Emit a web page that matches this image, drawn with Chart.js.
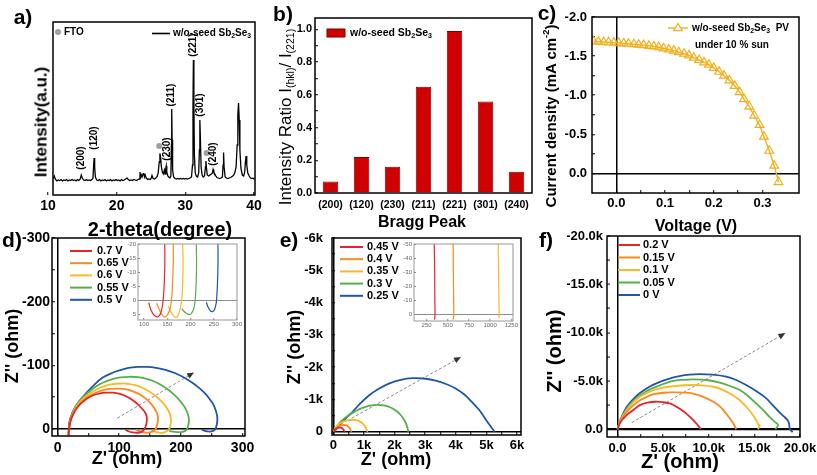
<!DOCTYPE html>
<html><head><meta charset="utf-8"><title>w/o-seed Sb2Se3</title>
<script src="https://cdn.jsdelivr.net/npm/chart.js@4.4.1/dist/chart.umd.min.js"></script>
<style>
html,body{margin:0;padding:0;background:#fff;overflow:hidden;}
body{position:relative;width:817px;height:475px;}
canvas{position:absolute;}
.t{position:absolute;font-family:"Liberation Sans",Arial,Helvetica,sans-serif;font-weight:bold;color:#000;white-space:nowrap;line-height:1;transform:translate(-50%,-50%);}
.v{transform:translate(-50%,-50%) rotate(-90deg);}
.t sub{font-size:62%;vertical-align:-0.3em;line-height:0;}
.t sup{font-size:62%;vertical-align:0.65em;line-height:0;}
</style></head><body>
<canvas id="ca"></canvas><canvas id="cb"></canvas><canvas id="cc"></canvas>
<canvas id="cd"></canvas><canvas id="ce"></canvas><canvas id="cf"></canvas>
<canvas id="cdi"></canvas><canvas id="cei"></canvas>

<div class="t" style="left:23px;top:16px;font-size:21px">a)</div>
<div class="t" style="left:283px;top:13px;font-size:21px">b)</div>
<div class="t" style="left:547px;top:12px;font-size:21px">c)</div>
<div class="t" style="left:12px;top:239px;font-size:21px">d)</div>
<div class="t" style="left:289px;top:239px;font-size:21px">e)</div>
<div class="t" style="left:546px;top:239px;font-size:21px">f)</div>

<div class="t v" style="left:41px;top:122px;font-size:17px">Intensity(a.u.)</div>
<div class="t" style="left:160px;top:229px;font-size:20px">2-theta(degree)</div>
<div class="t v" style="left:285px;top:117px;font-size:17px;font-weight:normal">Intensity Ratio I<sub>(hkl)</sub>/ I<sub>(221)</sub></div>
<div class="t" style="left:422px;top:222px;font-size:16px">Bragg Peak</div>
<div class="t v" style="left:550px;top:116px;font-size:15px">Current density (mA cm<sup>-2</sup>)</div>
<div class="t" style="left:696px;top:226px;font-size:16px">Voltage (V)</div>
<div class="t v" style="left:12px;top:346px;font-size:18px">Z'' (ohm)</div>
<div class="t" style="left:127px;top:458px;font-size:18px">Z' (ohm)</div>
<div class="t v" style="left:294px;top:347px;font-size:18px">Z'' (ohm)</div>
<div class="t" style="left:396px;top:459px;font-size:18px">Z' (ohm)</div>
<div class="t v" style="left:554px;top:351px;font-size:20px">Z'' (ohm)</div>
<div class="t" style="left:680px;top:461px;font-size:20px">Z' (ohm)</div>

<script>
// ================= DATA =================
// (a) XRD pattern
const xrdTheta = [10.7,10.9,11.1,11.3,11.5,11.7,11.9,12.1,12.3,12.5,12.7,12.9,13.1,13.3,13.5,13.7,13.9,14.1,14.3,14.5,14.7,14.85,15.0,15.2,15.4,15.6,15.8,16.0,16.2,16.4,16.55,16.65,16.72,16.8,16.9,17.1,17.3,17.5,17.7,17.9,18.1,18.3,18.5,18.7,18.9,19.1,19.3,19.5,19.7,19.9,20.1,20.3,20.5,20.7,20.9,21.1,21.3,21.5,21.7,21.9,22.1,22.3,22.5,22.7,22.9,23.1,23.3,23.4,23.5,23.6,23.7,23.85,23.95,24.05,24.15,24.3,24.5,24.7,24.9,25.05,25.15,25.3,25.5,25.7,25.9,26.05,26.2,26.3,26.4,26.5,26.65,26.8,26.95,27.05,27.15,27.22,27.3,27.45,27.6,27.75,27.9,27.97,28.02,28.08,28.15,28.3,28.5,28.7,28.9,29.1,29.3,29.5,29.7,29.9,30.1,30.3,30.5,30.7,30.9,31.05,31.12,31.18,31.25,31.32,31.45,31.6,31.8,31.95,32.05,32.12,32.2,32.3,32.45,32.6,32.8,32.93,33.0,33.08,33.2,33.4,33.6,33.8,33.95,34.05,34.15,34.3,34.45,34.6,34.8,35.0,35.2,35.4,35.5,35.57,35.65,35.8,36.0,36.2,36.4,36.6,36.8,37.0,37.2,37.4,37.55,37.65,37.75,37.85,37.95,38.1,38.3,38.5,38.65,38.75,38.85,38.95,39.1,39.3,39.5,39.7,39.85,40.0,40.15];
const xrdIntensity = [16,19,15.5,14,15,14.5,15.5,14,15,14.5,15.5,14,15,14.5,15.5,14.5,15,14,15.5,14.5,16,20,17,15,14.5,15.5,14.5,15,14.5,15.5,17,30,37,28,18,15,14.5,15.5,14,15,14.5,15.5,14,15,14.5,15.5,14,15,14.5,15.5,14.5,15,14,15.5,14.5,15,16,17,15.5,14.5,15,14.5,15.5,15,14.5,15.5,16,23,18,20,18,21,22,18,20,17,15.5,16,15.5,17,19.5,16.5,16,17,18.5,22,33,41.5,38,29,23,21,25,21,26,29,23,19,18,17,19,50,86,55,25,18,16.5,16,16.5,16,16.5,16,16.5,16,16.5,16,16.5,17,18,30,90,135,95,40,22,19,18,22,45,75,55,28,20,18,19,28,34,27,20,19,20,21,22,25.5,23,21,19,17.5,17,16.5,17,18,30,42.5,28,18,17,16.5,17,17.5,18.5,19.5,22,28,50,80,92,75,45,27,20,19,23,33,39,30,22,19,17,16.5,17,16,16.5];
const ftoTheta = [26.2, 33.1];
const ftoMark = [49, 42];
const peakLabels = ['(200)','(120)','(230)','(211)','(221)','(301)','(240)'];
const peakLabelTheta = [14.85, 16.75, 27.3, 28.0, 31.2, 32.15, 34.1];
const peakLabelY = [37, 57, 46, 100, 150, 90, 41];
const xrdTicks = [10, 20, 30, 40];

// (b) intensity ratio
const braggPeaks = ['(200)','(120)','(230)','(211)','(221)','(301)','(240)'];
const intensityRatio = [0.07, 0.22, 0.16, 0.65, 0.99, 0.56, 0.13];
const ratioTicks = [0, 0.2, 0.4, 0.6, 0.8, 1.0];
const ratioMinor = [0.1, 0.3, 0.5, 0.7, 0.9];

// (c) J-V curve
const pvVoltage = [-0.047,-0.037,-0.026,-0.016,-0.005,0.005,0.015,0.025,0.036,0.046,0.056,0.067,0.077,0.087,0.097,0.108,0.118,0.128,0.139,0.149,0.159,0.170,0.180,0.190,0.200,0.211,0.221,0.232,0.243,0.253,0.262,0.273,0.283,0.294,0.303,0.314,0.324,0.333];
const pvCurrent = [-1.69,-1.685,-1.68,-1.677,-1.672,-1.667,-1.663,-1.658,-1.652,-1.646,-1.64,-1.632,-1.624,-1.613,-1.60,-1.585,-1.57,-1.55,-1.53,-1.51,-1.48,-1.45,-1.42,-1.39,-1.35,-1.30,-1.25,-1.19,-1.12,-1.04,-0.95,-0.855,-0.74,-0.62,-0.47,-0.29,-0.10,0.11];
const pvTicksV = [0, 0.1, 0.2, 0.3];
const pvMinorV = [0.05, 0.15, 0.25];
const pvTicksJ = [-2.0, -1.5, -1.0, -0.5, 0.0];
const pvMinorJ = [-1.75, -1.25, -0.75, -0.25];

// (d) Nyquist, 0.7 - 0.5 V
const dLabels = ['0.7 V','0.65 V','0.6 V','0.55 V','0.5 V'];
const dRe07 = [110,115,122,130,136,140,142.5,144,144.8,144.5,142,137,131,122,112,101,90,79,69,58,48,39,31,25,21,19,18,18];
const dIm07 = [0.8,3.5,5.3,5.9,4.5,1.5,-3,-8,-14,-20,-26,-32,-38,-45,-51,-55,-57,-57,-56,-53,-48,-41,-32.5,-22,-12,-3,6,10];
const dRe065 = [127,132,138,145,151,156,159,161,162.5,163,162,158,152,144,134,122,110,98,86,74,62,50,40,31,25,21,19,18,18];
const dIm065 = [1,3,5,6,5,3,0,-5,-11,-17,-23,-31,-39,-47,-54,-59,-62.5,-63.5,-63,-61,-57,-51,-43,-34,-24,-13,-3,6,10];
const dRe06 = [152,156,161,167,172,177,181,183,184,183.5,181,176,169,160,150,139,127,115,102,89,76,63,51,40,31,25,21,19,18,18];
const dIm06 = [2,3.5,5,6,5.8,3.5,0,-6,-12,-18,-26,-35,-43,-51,-58,-64,-68.5,-71,-71.5,-70.5,-67.5,-62,-55,-46,-36,-25,-14,-3,6,10];
const dRe055 = [181,185,190,196,201,207,210,212,213,212.5,210,205,198,189,179,168,156,143,130,116,102,88,74,61,49,38,29,23,20,18,18];
const dIm055 = [3,3.8,4.5,5,4.8,3,0,-6,-12,-19,-27,-36,-45,-54,-62,-69,-75,-79,-81.5,-82,-81,-78,-73,-66,-57,-47,-35,-22,-10,6,10];
const dRe05 = [234,238,243,247,251,254,256,258,259,259,257,253,246,238,229,218,205,190,175,160,145,130,115,100,86,72,59,47,37,29,23,19,18,18];
const dIm05 = [0.7,2.5,3.8,4,3.5,2,0,-6,-12,-19,-28,-38,-48,-57,-65,-73,-81,-88,-93,-96,-97.5,-97.5,-96,-92,-87,-80,-69,-57,-46,-35,-23,-10,6,10];
const dArrowRe = [97, 220];
const dArrowIm = [-17, -88];
const dTicksX = [0, 100, 200, 300];
const dMinorX = [50, 150, 250];
const dTicksY = [-300, -200, -100, 0];
const dMinorY = [-250, -150, -50];
const dInsetTicksX = [100, 150, 200, 250, 300];
const dInsetTicksY = [-20, -15, -10, -5, 0, 5];

// (e) Nyquist, 0.45 - 0.25 V
const eLabels = ['0.45 V','0.4 V','0.35 V','0.3 V','0.25 V'];
const eRe045 = [10,40,80,130,180,230,280,315,338,346,348,350,347,343];
const eIm045 = [0,-50,-90,-118,-130,-128,-112,-85,-55,-30,-10,0,3,4];
const eRe04 = [10,50,110,180,250,320,390,450,500,540,560,567,570,572,568,562];
const eIm04 = [0,-70,-130,-175,-200,-210,-205,-185,-150,-105,-60,-30,-10,0,3,4];
const eRe035 = [10,60,140,240,350,460,570,680,780,870,950,1020,1070,1095,1102,1105,1107,1104];
const eIm035 = [0,-110,-200,-270,-320,-350,-365,-365,-350,-315,-260,-190,-110,-50,-20,-5,0,3];
const eRe03 = [10,100,250,450,650,850,1050,1250,1450,1650,1850,2050,2200,2330,2410,2440,2450];
const eIm03 = [0,-150,-320,-480,-600,-700,-770,-815,-830,-815,-760,-650,-520,-340,-160,-40,0];
const eRe025 = [20,200,400,600,850,1180,1500,1830,2200,2580,2950,3340,3680,3980,4270,4520,4760,4950,5130,5270];
const eIm025 = [0,-200,-410,-590,-850,-1140,-1340,-1500,-1610,-1660,-1650,-1580,-1480,-1350,-1160,-930,-680,-420,-180,0];
const eArrowRe = [600, 4140];
const eArrowIm = [-420, -2300];
const eTicksX = [0, 1000, 2000, 3000, 4000, 5000, 6000];
const eMinorX = [500, 1500, 2500, 3500, 4500, 5500];
const eTicksY = [-6000, -5000, -4000, -3000, -2000, -1000, 0];
const eMinorY = [-5500, -4500, -3500, -2500, -1500, -500];
const eInsetTicksX = [250, 500, 750, 1000, 1250];
const eInsetTicksY = [-50, -40, -30, -20, -10, 0];

// (f) Nyquist, 0.2 - 0 V
const fLabels = ['0.2 V','0.15 V','0.1 V','0.05 V','0 V'];
const fRe02 = [0,300,1000,1800,2460,3300,4200,5000,5800,6460,7100,7730,8250,8650,8950,9120];
const fIm02 = [0,-700,-1460,-2050,-2500,-2750,-2850,-2800,-2650,-2330,-1950,-1460,-1000,-600,-250,0];
const fRe015 = [0,300,1000,1700,2460,3200,3900,5000,6100,7200,8300,9400,10500,11300,11900,12400,12800,13000];
const fIm015 = [0,-800,-1800,-2450,-3000,-3350,-3600,-3780,-3820,-3800,-3700,-3350,-2850,-2300,-1630,-1000,-420,0];
const fRe01 = [0,300,1000,1700,2460,3500,4640,6000,7900,9200,10500,11600,12600,13400,14100,14700,15200,15450,15600,15400];
const fIm01 = [0,-850,-2000,-2750,-3360,-3900,-4240,-4450,-4580,-4550,-4400,-4050,-3540,-3000,-2330,-1650,-940,-450,-400,0];
const fRe005 = [0,300,1000,1700,2460,3500,4640,6100,7200,8300,9800,11200,12400,13400,14300,15200,16000,16650,17200,17600,17300];
const fIm005 = [0,-900,-2100,-2900,-3500,-4100,-4550,-5000,-5120,-5170,-5100,-4830,-4450,-4060,-3450,-2670,-1950,-1280,-800,-450,0];
const fRe0 = [0,300,1000,1700,2460,3500,4640,5700,6800,7900,9000,10400,11900,13000,14100,15200,16300,17000,17700,18200,18650,18800,18900,19200];
const fIm0 = [0,-950,-2300,-3100,-3750,-4400,-4900,-5250,-5500,-5650,-5700,-5650,-5450,-5100,-4580,-3950,-3200,-2500,-1800,-1350,-940,-600,0,300];
const fArrowRe = [1550, 18300];
const fArrowIm = [-680, -9900];
const fTicksX = [0, 5000, 10000, 15000, 20000];
const fMinorX = [2500, 7500, 12500, 17500];
const fTicksY = [-20000, -15000, -10000, -5000, 0];
const fMinorY = [-17500, -12500, -7500, -2500];

// ================= STYLE / HELPERS =================
const FONT = '"Liberation Sans", Arial, Helvetica, sans-serif';
const COL = {red:'#e5252a', orange:'#f98a1f', yellow:'#fbb827', green:'#55b04b', blue:'#1f57a6', pv:'#f2b01e'};
const M = {l:70, t:30, r:60, b:50};
const YW = 40, XH = 30;

function pts(xs, ys) { return xs.map((x, i) => ({x: x, y: ys[i]})); }

function axis(o) {
  const horiz = o.pos === 'x';
  const minor = o.minor || [];
  return {
    type: 'linear', position: horiz ? 'bottom' : 'left',
    min: o.min, max: o.max, reverse: !!o.reverse, bounds: 'data',
    afterBuildTicks: (s) => { s.ticks = o.ticks.concat(minor).map(v => ({value: v})); },
    afterFit: (s) => { if (horiz) s.height = XH; else s.width = YW; },
    grid: {
      display: true,
      drawOnChartArea: !!o.zero,
      color: (c) => (o.zero && c.tick && c.tick.value === 0) ? o.zero : 'rgba(0,0,0,0)',
      lineWidth: o.zeroW || 1.5,
      drawTicks: o.tl !== 0,
      tickLength: o.tl == null ? -3 : o.tl,
      tickColor: o.tickColor || '#000',
      tickWidth: 1
    },
    border: {display: false},
    ticks: {
      display: o.labels !== false,
      autoSkip: false, maxRotation: 0, minRotation: 0,
      padding: o.pad == null ? 6 : o.pad,
      color: o.color || '#000',
      font: {family: FONT, weight: o.weight || 'bold', size: o.fs || 12},
      callback: (v) => minor.includes(v) ? '' : (o.fmt ? o.fmt(v) : String(v))
    }
  };
}

function richText(ctx, s, x, y, size) {
  // '_' marks the next character as a subscript
  const runs = [];
  for (let i = 0; i < s.length; i++) {
    let ch = s[i], sub = false;
    if (ch === '_' && i + 1 < s.length) { sub = true; ch = s[++i]; }
    if (runs.length && runs[runs.length - 1].sub === sub) runs[runs.length - 1].t += ch;
    else runs.push({t: ch, sub: sub});
  }
  let cx = x;
  ctx.textAlign = 'left'; ctx.textBaseline = 'middle'; ctx.fillStyle = '#000';
  runs.forEach(r => {
    const fs = r.sub ? size * 0.68 : size;
    ctx.font = 'bold ' + fs + 'px ' + FONT;
    ctx.fillText(r.t, cx, r.sub ? y + size * 0.3 : y);
    cx += ctx.measureText(r.t).width;
  });
}

function framePlugin(color, w) {
  return {id: 'frame', afterDatasetsDraw(ch) {
    const a = ch.chartArea, ctx = ch.ctx;
    ctx.save(); ctx.strokeStyle = color || '#000'; ctx.lineWidth = w || 1.5;
    ctx.strokeRect(a.left, a.top, a.right - a.left, a.bottom - a.top);
    ctx.restore();
  }};
}
function whiteBg() {
  return {id: 'whitebg', beforeDraw(ch) {
    const a = ch.chartArea, ctx = ch.ctx;
    ctx.save(); ctx.fillStyle = '#fff'; ctx.fillRect(a.left, a.top, a.right - a.left, a.bottom - a.top); ctx.restore();
  }};
}
function legendPlugin(items, cfg) {
  return {id: 'boxlegend', afterDraw(ch) {
    const ctx = ch.ctx, a = ch.chartArea;
    ctx.save();
    items.forEach((it) => {
      const x0 = a.left + it.x, y0 = a.top + it.y;
      const ds = it.ds != null ? ch.data.datasets[it.ds] : null;
      const len = it.len || cfg.len;
      if (it.sym === 'line' || it.sym === 'tri') {
        ctx.strokeStyle = ds.borderColor; ctx.lineWidth = cfg.lw || 2;
        ctx.beginPath(); ctx.moveTo(x0, y0); ctx.lineTo(x0 + len, y0); ctx.stroke();
        if (it.sym === 'tri') {
          const cx = x0 + len / 2, r = 4.5;
          ctx.fillStyle = '#fff'; ctx.lineWidth = 1.2;
          ctx.beginPath(); ctx.moveTo(cx, y0 - r); ctx.lineTo(cx + r * 0.95, y0 + r * 0.6); ctx.lineTo(cx - r * 0.95, y0 + r * 0.6); ctx.closePath();
          ctx.fill(); ctx.stroke();
        }
      } else if (it.sym === 'rect') {
        ctx.fillStyle = ds.backgroundColor; ctx.strokeStyle = ds.borderColor; ctx.lineWidth = 1;
        ctx.fillRect(x0, y0 - 4, len, 8); ctx.strokeRect(x0, y0 - 4, len, 8);
      } else if (it.sym === 'dot') {
        ctx.fillStyle = ds.backgroundColor;
        ctx.beginPath(); ctx.arc(x0 + 3, y0, 3, 0, Math.PI * 2); ctx.fill();
      }
      const tx = it.tx != null ? a.left + it.tx : x0 + len + cfg.gap;
      richText(ctx, it.text, tx, y0, cfg.fs);
    });
    ctx.restore();
  }};
}
function arrowPlugin(dsIndex) {
  return {id: 'arrowhead', afterDatasetsDraw(ch) {
    const p = ch.getDatasetMeta(dsIndex).data;
    if (p.length < 2) return;
    const p1 = p[p.length - 2], p2 = p[p.length - 1];
    const ang = Math.atan2(p2.y - p1.y, p2.x - p1.x);
    const ctx = ch.ctx;
    ctx.save(); ctx.translate(p2.x, p2.y); ctx.rotate(ang);
    ctx.fillStyle = '#333';
    ctx.beginPath(); ctx.moveTo(1, 0); ctx.lineTo(-6, -3); ctx.lineTo(-6, 3); ctx.closePath(); ctx.fill();
    ctx.restore();
  }};
}
function curve(label, re, im, color, w) {
  return {label: label, data: pts(re, im), showLine: true, borderColor: color, backgroundColor: color,
    borderWidth: w || 1.8, pointRadius: 0, tension: 0.35};
}
function arrowDs(re, im) {
  return {label: 'arrow', data: pts(re, im), showLine: true, borderColor: '#8a8a8a', borderWidth: 1,
    borderDash: [3, 2], pointRadius: 0, tension: 0};
}

function build(id, area, cfg) {
  const c = document.getElementById(id);
  const w = area.r - area.l + M.l + M.r, h = area.b - area.t + M.t + M.b;
  c.width = w; c.height = h;
  c.style.left = (area.l - M.l) + 'px'; c.style.top = (area.t - M.t) + 'px';
  c.style.width = w + 'px'; c.style.height = h + 'px';
  cfg.options = Object.assign({
    responsive: false, animation: false, devicePixelRatio: 1, events: [],
    layout: {padding: {left: M.l - YW, top: M.t, right: M.r, bottom: M.b - XH}},
  }, cfg.options);
  cfg.options.plugins = Object.assign({legend: {display: false}, tooltip: {enabled: false}}, cfg.options.plugins || {});
  return new Chart(c, cfg);
}

// ================= (a) XRD =================
build('ca', {l:53, t:22, r:255, b:195}, {
  type: 'scatter',
  data: {datasets: [
    {label: 'w/o-seed Sb₂Se₃', data: pts(xrdTheta, xrdIntensity), showLine: true, borderColor: '#000', backgroundColor: '#000', borderWidth: 1.3, pointRadius: 0, tension: 0},
    {label: 'FTO', data: pts(ftoTheta, ftoMark), showLine: false, borderColor: '#a0a0a0', backgroundColor: '#a0a0a0', pointRadius: 3, pointBorderWidth: 0}
  ]},
  options: {
    scales: {
      x: axis({pos: 'x', min: 10.73, max: 40.15, ticks: xrdTicks, fs: 14, pad: 6}),
      y: axis({pos: 'y', min: 0, max: 173, ticks: [0], labels: false, tl: 0})
    }
  },
  plugins: [framePlugin('#000', 1.5),
    legendPlugin([
      {ds: 1, sym: 'dot', x: 2, y: 10, len: 6, tx: 11, text: 'FTO'},
      {ds: 0, sym: 'line', x: 99, y: 11.5, len: 18, text: 'w/o-seed Sb_2Se_3'}
    ], {len: 18, gap: 3, fs: 10, lw: 1.6}),
    {id: 'peaklabels', afterDatasetsDraw(ch) {
      const ctx = ch.ctx, xs = ch.scales.x, ys = ch.scales.y;
      peakLabels.forEach((t, i) => {
        ctx.save();
        ctx.translate(xs.getPixelForValue(peakLabelTheta[i]), ys.getPixelForValue(peakLabelY[i]));
        ctx.rotate(-Math.PI / 2);
        ctx.font = 'bold 10px ' + FONT; ctx.fillStyle = '#000';
        ctx.textAlign = 'center'; ctx.textBaseline = 'middle';
        ctx.fillText(t, 0, 0);
        ctx.restore();
      });
    }}]
});

// ================= (b) bars =================
build('cb', {l:315, t:18, r:532, b:193}, {
  type: 'bar',
  data: {labels: braggPeaks, datasets: [
    {label: 'w/o-seed Sb₂Se₃', data: intensityRatio, backgroundColor: '#d10000', borderColor: '#7a0000', borderWidth: 1,
     barPercentage: 0.5, categoryPercentage: 1.0}
  ]},
  options: {
    scales: {
      x: {type: 'category', position: 'bottom', offset: true,
          afterFit: (s) => { s.height = XH; },
          grid: {display: false, drawTicks: false}, border: {display: false},
          ticks: {padding: 6, color: '#000', autoSkip: false, maxRotation: 0, font: {family: FONT, weight: 'bold', size: 10.5}}},
      y: axis({pos: 'y', min: 0, max: 1.07, ticks: ratioTicks, minor: ratioMinor, fs: 11, pad: 6, fmt: v => v.toFixed(1)})
    }
  },
  plugins: [framePlugin('#000', 1.5),
    legendPlugin([{ds: 0, sym: 'rect', x: 12, y: 15, len: 18, text: 'w/o-seed Sb_2Se_3'}], {len: 18, gap: 5, fs: 10.5})]
});

// ================= (c) J-V =================
build('cc', {l:592, t:17, r:799, b:193}, {
  type: 'scatter',
  data: {datasets: [
    {label: 'w/o-seed Sb₂Se₃ PV', data: pts(pvVoltage, pvCurrent), showLine: true, borderColor: COL.pv, backgroundColor: 'rgba(255,255,255,0)',
     borderWidth: 1.4, pointStyle: 'triangle', pointRadius: 5, pointBorderWidth: 1.2, pointBorderColor: COL.pv, pointBackgroundColor: 'rgba(255,255,255,0)', tension: 0}
  ]},
  options: {
    scales: {
      x: axis({pos: 'x', min: -0.05, max: 0.375, ticks: pvTicksV, minor: pvMinorV, fs: 13, pad: 6, zero: '#000', zeroW: 1.5, fmt: v => v.toFixed(1)}),
      y: axis({pos: 'y', min: -2.0, max: 0.25, reverse: true, ticks: pvTicksJ, minor: pvMinorJ, fs: 13, pad: 8, zero: '#000', zeroW: 1.5, fmt: v => v.toFixed(1)})
    }
  },
  plugins: [framePlugin('#000', 1.5),
    legendPlugin([
      {ds: 0, sym: 'tri', x: 76, y: 11, len: 20, text: 'w/o-seed Sb_2Se_3  PV'},
      {sym: 'none', x: 103, y: 28, tx: 103, text: 'under 10 % sun'}
    ], {len: 20, gap: 4, fs: 10, lw: 1.4})]
});

// ================= (d) Nyquist =================
const dSeries = [[dRe07, dIm07, COL.red], [dRe065, dIm065, COL.orange], [dRe06, dIm06, COL.yellow], [dRe055, dIm055, COL.green], [dRe05, dIm05, COL.blue]];
function legendItems(labels, x, y0, dy) { return labels.map((t, i) => ({ds: i, sym: 'line', x: x, y: y0 + i * dy, text: t})); }

build('cd', {l:52, t:238, r:245, b:436}, {
  type: 'scatter',
  data: {datasets: dSeries.map((s, i) => curve(dLabels[i], s[0], s[1], s[2], 1.8)).concat([arrowDs(dArrowRe, dArrowIm)])},
  options: {scales: {
    x: axis({pos: 'x', min: -9, max: 304, ticks: dTicksX, minor: dMinorX, fs: 14, pad: 7, zero: '#000', zeroW: 1.5}),
    y: axis({pos: 'y', min: -300, max: 11, reverse: true, ticks: dTicksY, minor: dMinorY, fs: 14, pad: 5, zero: '#000', zeroW: 1.5})
  }},
  plugins: [framePlugin('#000', 1.5), arrowPlugin(5), legendPlugin(legendItems(dLabels, 18, 13, 12.2), {len: 22, gap: 5, fs: 11, lw: 2})]
});
build('cdi', {l:138, t:244, r:237, b:320}, {
  type: 'scatter',
  data: {datasets: dSeries.map((s, i) => curve(dLabels[i], s[0], s[1], s[2], 1.2))},
  options: {scales: {
    x: axis({pos: 'x', min: 87, max: 300, ticks: dInsetTicksX, fs: 6, pad: 3, tl: -2, weight: 'normal', color: '#666', tickColor: '#888'}),
    y: axis({pos: 'y', min: -20, max: 7, reverse: true, ticks: dInsetTicksY, fs: 6, pad: 4, tl: -2, weight: 'normal', color: '#666', tickColor: '#888', zero: '#8c8c8c', zeroW: 1})
  }},
  plugins: [whiteBg(), framePlugin('#999', 1)]
});

// ================= (e) Nyquist =================
const eSeries = [[eRe045, eIm045, COL.red], [eRe04, eIm04, COL.orange], [eRe035, eIm035, COL.yellow], [eRe03, eIm03, COL.green], [eRe025, eIm025, COL.blue]];
const kFmt = v => v === 0 ? '0' : (v / 1000) + 'k';
build('ce', {l:332, t:238, r:521, b:435}, {
  type: 'scatter',
  data: {datasets: eSeries.map((s, i) => curve(eLabels[i], s[0], s[1], s[2], 1.8)).concat([arrowDs(eArrowRe, eArrowIm)])},
  options: {scales: {
    x: axis({pos: 'x', min: -45, max: 6130, ticks: eTicksX, minor: eMinorX, fs: 13, pad: 6, zero: '#000', zeroW: 1.5, fmt: kFmt}),
    y: axis({pos: 'y', min: -6000, max: 100, reverse: true, ticks: eTicksY, minor: eMinorY, fs: 13, pad: 12, zero: '#000', zeroW: 1.5, fmt: kFmt})
  }},
  plugins: [framePlugin('#000', 1.5), arrowPlugin(5), legendPlugin(legendItems(eLabels, 8, 9, 12.2), {len: 23, gap: 4, fs: 11, lw: 2})]
});
build('cei', {l:414, t:244, r:513, b:321}, {
  type: 'scatter',
  data: {datasets: eSeries.map((s, i) => curve(eLabels[i], s[0], s[1], s[2], 1.2))},
  options: {scales: {
    x: axis({pos: 'x', min: 102, max: 1270, ticks: eInsetTicksX, fs: 6, pad: 3, tl: -2, weight: 'normal', color: '#666', tickColor: '#888'}),
    y: axis({pos: 'y', min: -50, max: 5, reverse: true, ticks: eInsetTicksY, fs: 6, pad: 4, tl: -2, weight: 'normal', color: '#666', tickColor: '#888', zero: '#8c8c8c', zeroW: 1})
  }},
  plugins: [whiteBg(), framePlugin('#999', 1)]
});

// ================= (f) Nyquist =================
const fSeries = [[fRe02, fIm02, COL.red], [fRe015, fIm015, COL.orange], [fRe01, fIm01, COL.yellow], [fRe005, fIm005, COL.green], [fRe0, fIm0, COL.blue]];
const kFmt1 = v => v === 0 ? '0.0' : (v / 1000).toFixed(1) + 'k';
build('cf', {l:607, t:236, r:800, b:437}, {
  type: 'scatter',
  data: {datasets: fSeries.map((s, i) => curve(fLabels[i], s[0], s[1], s[2], 1.8)).concat([arrowDs(fArrowRe, fArrowIm)])},
  options: {scales: {
    x: axis({pos: 'x', min: -1150, max: 20000, ticks: fTicksX, minor: fMinorX, fs: 13, pad: 7, zero: '#000', zeroW: 1.5, fmt: kFmt1}),
    y: axis({pos: 'y', min: -20000, max: 800, reverse: true, ticks: fTicksY, minor: fMinorY, fs: 13, pad: 7, zero: '#000', zeroW: 2.2, fmt: kFmt1})
  }},
  plugins: [framePlugin('#000', 1.5), arrowPlugin(5), legendPlugin(legendItems(fLabels, 11, 9, 12.5), {len: 22, gap: 3, fs: 11, lw: 2})]
});
</script>
</body></html>
